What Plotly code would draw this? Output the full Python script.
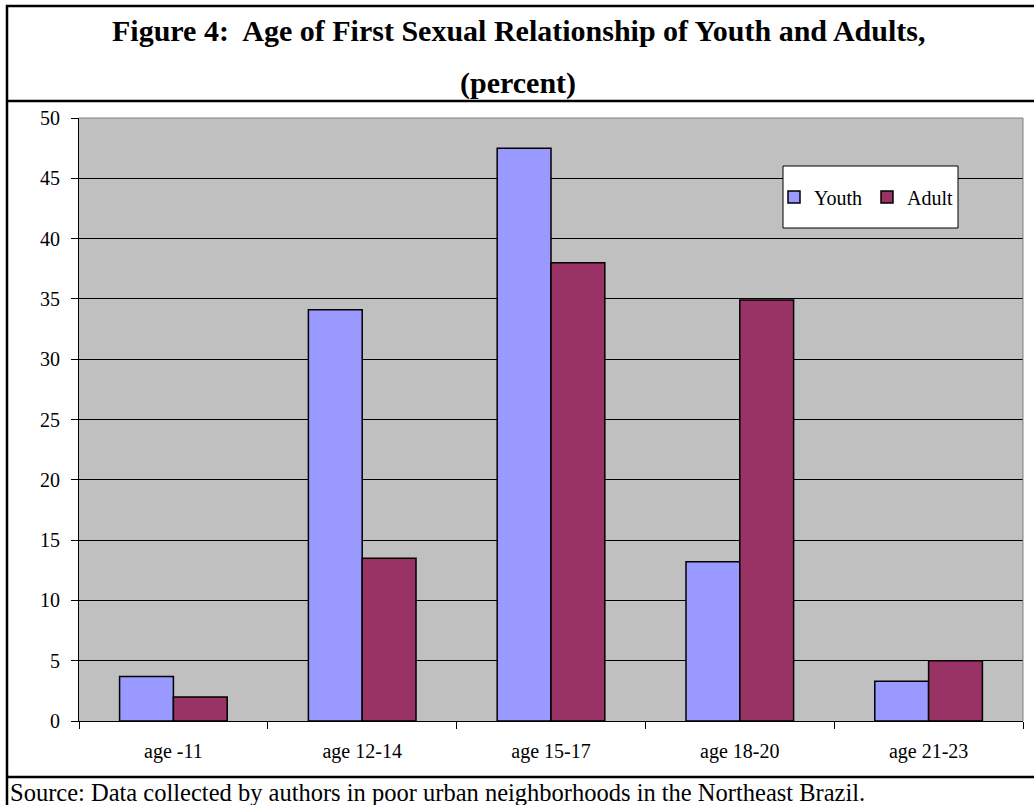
import plotly.graph_objects as go

# Age groups and percentages for each population
age_groups = ["age -11", "age 12-14", "age 15-17", "age 18-20", "age 21-23"]
youth_pct = [3.7, 34.1, 47.5, 13.2, 3.3]
adult_pct = [2.0, 13.5, 38.0, 34.9, 5.0]

title_line1 = "Figure 4:  Age of First Sexual Relationship of Youth and Adults,"
title_line2 = "(percent)"
source_note = "Source: Data collected by authors in poor urban neighborhoods in the Northeast Brazil."

W, H = 1034, 805
L, R, T, B = 79, 1023, 118, 721  # plot area edges in pixels

SERIF = "Liberation Serif, Times New Roman, serif"


def fx(px):
    return (px - L) / (R - L)


def fy(py):
    return (B - py) / (B - T)


fig = go.Figure()
fig.add_trace(go.Bar(
    x=age_groups, y=youth_pct, name="Youth",
    marker=dict(color="#9999FF", line=dict(color="#000000", width=1.5)),
))
fig.add_trace(go.Bar(
    x=age_groups, y=adult_pct, name="Adult",
    marker=dict(color="#993366", line=dict(color="#000000", width=1.5)),
))

shapes = [
    # outer frame and its two dividers
    dict(type="rect", xref="paper", yref="paper",
         x0=fx(7), x1=fx(1045), y0=fy(6), y1=fy(830),
         line=dict(color="#000000", width=2.5), fillcolor="rgba(0,0,0,0)", layer="above"),
    dict(type="line", xref="paper", yref="paper",
         x0=fx(7), x1=fx(1045), y0=fy(101), y1=fy(101),
         line=dict(color="#000000", width=2.5), layer="above"),
    dict(type="line", xref="paper", yref="paper",
         x0=fx(7), x1=fx(1045), y0=fy(777), y1=fy(777),
         line=dict(color="#000000", width=2.5), layer="above"),
    # grey top and right edges of the plot area
    dict(type="line", xref="paper", yref="paper", x0=0, x1=1, y0=1, y1=1,
         line=dict(color="#808080", width=1), layer="above"),
    dict(type="line", xref="paper", yref="paper", x0=1, x1=1, y0=0, y1=1,
         line=dict(color="#808080", width=1), layer="above"),
    # legend box
    dict(type="rect", xref="paper", yref="paper",
         x0=fx(783), x1=fx(958), y0=fy(166), y1=fy(228),
         line=dict(color="#000000", width=1), fillcolor="#FFFFFF", layer="above"),
]

annotations = [
    dict(text="<b>" + title_line1 + "</b>", xref="paper", yref="paper",
         x=fx(518), y=fy(30), xanchor="center", yanchor="middle", showarrow=False,
         font=dict(family=SERIF, size=30, color="#000000")),
    dict(text="<b>" + title_line2 + "</b>", xref="paper", yref="paper",
         x=fx(518), y=fy(83), xanchor="center", yanchor="middle", showarrow=False,
         font=dict(family=SERIF, size=30, color="#000000")),
    dict(text=source_note, xref="paper", yref="paper",
         x=fx(8), y=fy(793), xanchor="left", yanchor="middle", showarrow=False,
         font=dict(family=SERIF, size=24.5, color="#000000")),
]

fig.update_layout(
    width=W, height=H,
    margin=dict(l=L, r=W - R, t=T, b=H - B, pad=0),
    paper_bgcolor="#FFFFFF",
    plot_bgcolor="#C0C0C0",
    barmode="group",
    bargap=0.43,
    bargroupgap=0,
    font=dict(family=SERIF, size=20, color="#000000"),
    showlegend=True,
    legend=dict(
        orientation="h",
        x=fx(774), y=fy(197), xanchor="left", yanchor="middle",
        bgcolor="rgba(0,0,0,0)", borderwidth=0,
        font=dict(family=SERIF, size=20, color="#000000"),
    ),
    shapes=shapes,
    annotations=annotations,
)

fig.update_xaxes(
    showline=True, linecolor="#000000", linewidth=1,
    ticks="outside", tickson="boundaries", ticklen=7, tickcolor="#000000",
    ticklabelstandoff=12,
    showgrid=False, zeroline=False,
    tickfont=dict(family=SERIF, size=20, color="#000000"),
)
fig.update_yaxes(
    range=[0, 50], dtick=5, tick0=0,
    showline=True, linecolor="#000000", linewidth=1,
    ticks="outside", ticklen=7, tickcolor="#000000",
    ticklabelstandoff=7,
    showgrid=True, gridcolor="#000000", gridwidth=1,
    zeroline=False,
    tickfont=dict(family=SERIF, size=20, color="#000000"),
)

fig.write_html("out.html")
